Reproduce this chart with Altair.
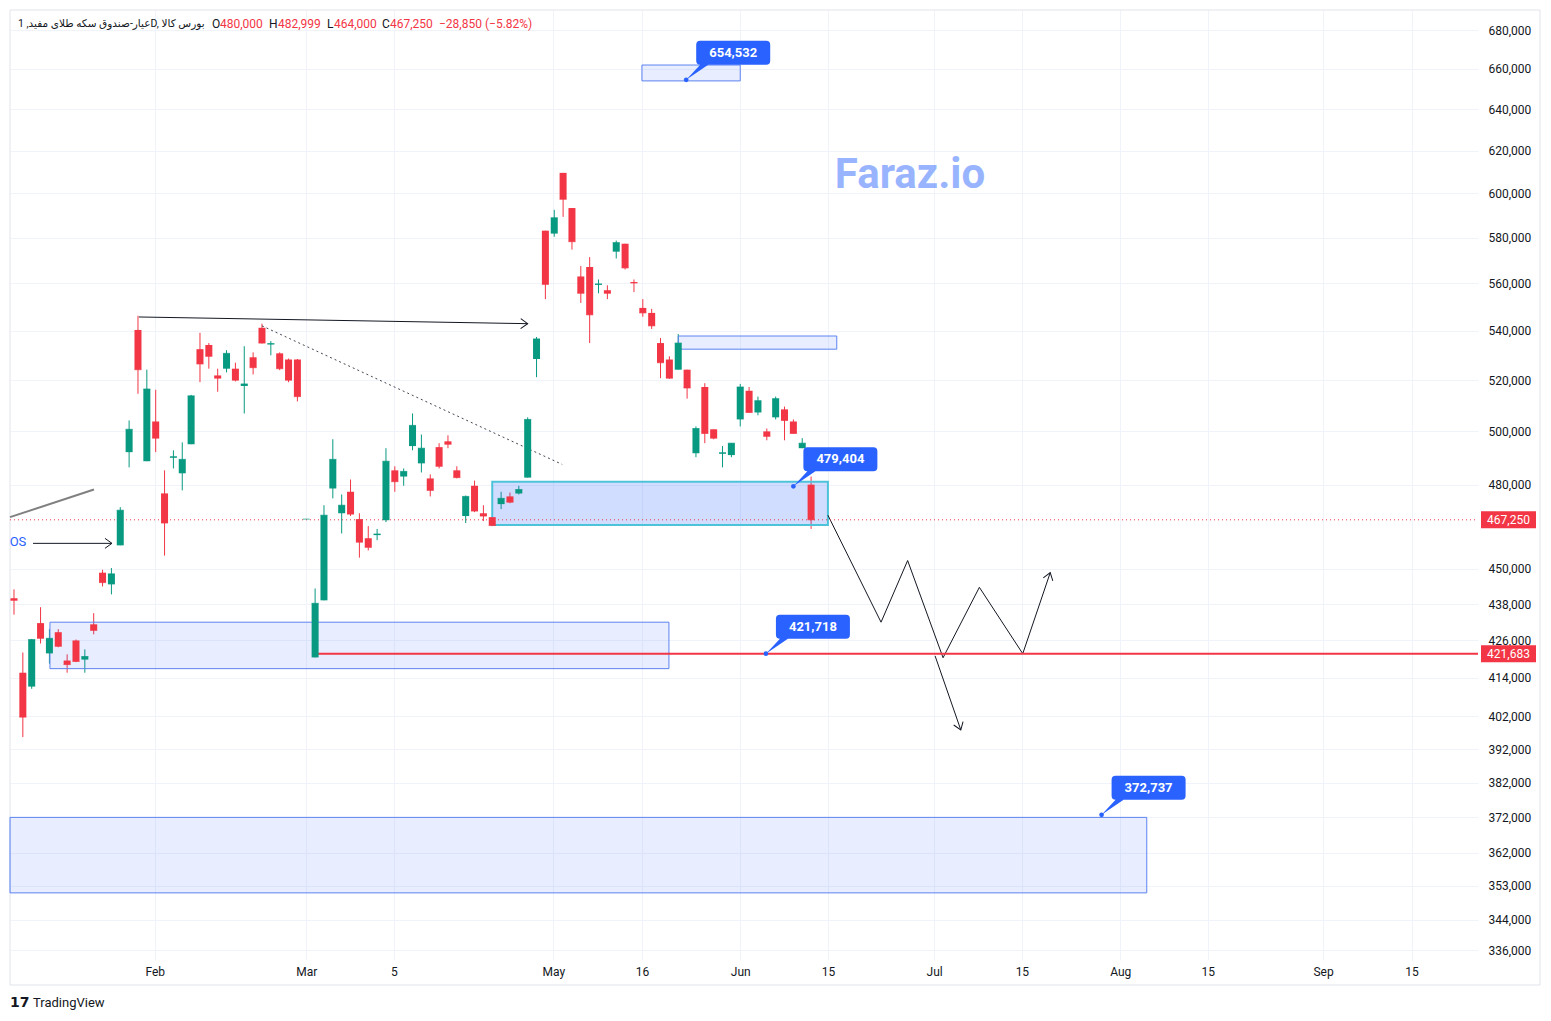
import altair as alt
import pandas as pd

GREEN = "#089981"
RED = "#F23645"
BLUE = "#2962FF"
INK = "#131722"
FONT = "Roboto, 'DejaVu Sans', sans-serif"
W, H = 1468, 950

# ---------------- candle data (thousands) ----------------
opens = [440.0, 415.6, 411.2, 431.7, 421.8, 428.7, 419.5, 426.0, 419.8, 431.3,
         448.7, 444.7, 458.2, 492.1, 540.4, 488.7, 503.8, 476.8, 490.0, 484.2,
         495.1, 532.5, 534.2, 521.9, 524.6, 524.6, 517.7, 529.2, 541.3, 534.4,
         530.8, 528.3, 528.3, 467.5, 420.5, 439.3, 478.6, 469.6, 477.4, 467.5,
         460.7, 461.8, 467.1, 485.3, 483.0, 494.4, 487.9, 482.3, 494.0, 496.2,
         485.3, 468.6, 479.6, 469.6, 468.2, 472.9, 475.7, 476.8, 482.6, 528.5,
         583.1, 581.8, 609.5, 593.3, 563.0, 567.1, 559.4, 557.1, 573.8, 577.3,
         560.6, 549.6, 547.5, 535.0, 528.3, 524.2, 524.2, 491.7, 517.3, 500.8,
         491.5, 491.0, 504.6, 515.8, 507.3, 500.0, 505.4, 508.5, 503.8, 493.6,
         480.0]
highs = [443.0, 422.1, 426.5, 437.0, 429.7, 429.7, 421.5, 426.3, 423.1, 435.0,
         449.7, 450.3, 471.8, 504.2, 546.3, 524.2, 516.2, 485.3, 492.8, 495.8,
         514.2, 539.2, 535.0, 524.6, 532.1, 527.0, 533.7, 531.2, 543.0, 535.8,
         531.2, 528.7, 528.5, 467.5, 443.3, 472.5, 497.0, 476.4, 481.9, 469.6,
         465.0, 464.0, 493.6, 486.8, 486.0, 506.9, 498.8, 483.8, 495.5, 498.5,
         486.8, 476.0, 481.5, 472.5, 468.2, 477.4, 477.1, 479.6, 505.4, 537.5,
         583.1, 592.5, 609.5, 593.3, 567.5, 571.4, 561.7, 559.2, 578.7, 577.3,
         561.7, 553.3, 549.2, 537.1, 529.6, 538.7, 524.2, 501.9, 518.8, 500.8,
         494.4, 495.5, 518.5, 517.3, 513.5, 501.1, 513.5, 509.6, 504.6, 497.4,
         482.999]
lows = [434.5, 395.6, 410.5, 425.0, 418.5, 423.8, 415.6, 419.0, 415.6, 428.0,
        444.0, 441.3, 458.2, 486.4, 514.6, 488.7, 492.1, 454.6, 486.0, 477.9,
        495.1, 519.2, 524.6, 515.4, 523.1, 519.5, 506.9, 522.3, 534.8, 530.0,
        524.0, 519.2, 511.6, 467.5, 420.5, 439.3, 475.0, 462.4, 468.6, 453.9,
        456.4, 460.0, 466.4, 477.4, 479.6, 492.8, 484.5, 475.7, 486.0, 493.6,
        482.3, 466.1, 470.0, 466.8, 465.0, 471.1, 473.2, 476.4, 482.6, 521.2,
        553.3, 580.4, 589.3, 574.7, 551.7, 535.0, 555.8, 553.3, 570.8, 566.0,
        556.3, 545.9, 540.8, 520.8, 520.5, 524.2, 512.7, 490.2, 495.5, 497.0,
        486.4, 490.2, 501.9, 507.3, 506.2, 496.6, 504.6, 496.6, 499.2, 493.6,
        464.0]
closes = [439.3, 401.7, 426.3, 426.7, 426.7, 424.1, 418.2, 419.2, 420.8, 429.3,
          445.3, 448.3, 470.7, 500.8, 524.2, 516.5, 497.4, 466.1, 490.4, 489.4,
          513.8, 526.5, 529.6, 520.8, 530.8, 520.0, 518.5, 525.0, 535.0, 534.8,
          524.6, 520.0, 513.5, 467.5, 438.3, 468.9, 489.4, 472.5, 469.3, 459.3,
          457.5, 462.2, 488.7, 481.1, 484.9, 502.3, 493.6, 477.9, 486.8, 495.1,
          482.6, 475.7, 470.4, 468.6, 465.2, 475.0, 473.6, 478.2, 504.6, 536.7,
          559.6, 588.9, 597.3, 578.2, 555.8, 546.7, 559.8, 555.8, 577.8, 566.7,
          560.2, 547.5, 542.1, 527.0, 520.8, 535.0, 516.9, 501.1, 499.2, 497.4,
          491.9, 495.5, 517.3, 507.3, 511.9, 498.1, 512.7, 504.2, 499.2, 495.5,
          467.25]

# ---------------- axes ----------------
x_tick_pos = [15.9, 33, 42.9, 60.9, 70.9, 82, 91.9, 103.9, 113.8, 124.9, 134.8, 147.8, 157.8]
x_tick_lab = ["Feb", "Mar", "5", "May", "16", "Jun", "15", "Jul", "15", "Aug", "15", "Sep", "15"]
y_ticks = [336000, 344000, 353000, 362000, 372000, 382000, 392000, 402000, 414000,
           426000, 438000, 450000, 480000, 500000, 520000, 540000, 560000, 580000,
           600000, 620000, 640000, 660000, 680000]
X_DOMAIN = [-0.45, 165.3]
Y_DOMAIN = [333500, 690500]

# ---------------- zones (boxes) ----------------
zone_x1 = [70.9, 75.0, 54.0, 4.06, -0.45]
zone_x2 = [82.0, 92.9, 91.9, 73.95, 127.9]
zone_top = [662000, 537900, 481100, 432000, 372000]
zone_bot = [654000, 532500, 465400, 416900, 351100]
zone_kind = ["plain", "plain", "active", "plain", "plain"]

# ---------------- drawn lines ----------------
seg_name = ["trend", "top_arrow", "os_arrow", "diag", "down_arrow"]
seg_x1 = [-0.45, 14.1, 2.15, 28.0, 104.0]
seg_y1 = [468200, 545800, 458900, 542100, 421000]
seg_x2 = [9.03, 58.0, 11.06, 61.9, 106.9]
seg_y2 = [478200, 543000, 458900, 487500, 397800]

zig_i = [91.9, 97.9, 100.9, 104.9, 109.0, 113.9, 117.0]
zig_p = [468900, 432000, 452900, 420400, 443700, 421700, 448700]

arrow_i = [58.0, 11.06, 117.0, 106.9]
arrow_p = [543000, 458900, 448700, 397800]
arrow_angle = [1, 0, 288, 70]

support_start = 34.0
support_price = 421683
last_price = 467250

callout_i = [75.9, 88.0, 84.9, 122.8]
callout_p = [654532, 479404, 421718, 372737]

# ---------------- frames ----------------
candles = pd.DataFrame({
    "i": list(range(len(opens))),
    "o": [v * 1000 for v in opens],
    "h": [v * 1000 for v in highs],
    "l": [v * 1000 for v in lows],
    "c": [v * 1000 for v in closes],
})
candles["d"] = ["up" if c >= o else "down" for o, c in zip(candles.o, candles.c)]

xs = alt.Scale(domain=X_DOMAIN, nice=False, zero=False, padding=0)
ys = alt.Scale(type="log", domain=Y_DOMAIN, nice=False, zero=False, padding=0)
col = alt.Color("d:N", scale=alt.Scale(domain=["up", "down"], range=[GREEN, RED]), legend=None)

label_expr = " : ".join(
    f"datum.value == {p} ? '{t}'" for p, t in zip(x_tick_pos, x_tick_lab)
) + " : ''"

x_axis = alt.Axis(values=x_tick_pos, labelExpr=label_expr, ticks=False, domain=False,
                  grid=True, gridColor="#f0f3fa", labelPadding=6, labelFontSize=12,
                  labelColor=INK, labelFont=FONT, title=None, labelFlush=False)
y_axis = alt.Axis(values=y_ticks, format=",d", orient="right", ticks=False, domain=False,
                  grid=True, gridColor="#f0f3fa", labelPadding=10, labelFontSize=12,
                  labelColor=INK, labelFont=FONT, title=None, labelFlush=False,
                  labelOverlap=False)

def X(f):
    return alt.X(f, scale=xs, axis=x_axis, title=None)

def Y(f):
    return alt.Y(f, scale=ys, axis=y_axis, title=None)

one = pd.DataFrame({"a": [0]})

# frame around whole chart
frame = alt.Chart(one).mark_rect(fillOpacity=0, stroke="#e0e3eb", strokeWidth=1).encode(
    x=alt.value(0), x2=alt.value(1530), y=alt.value(0), y2=alt.value(975))

# zones
zones = pd.DataFrame({"x1": zone_x1, "x2": zone_x2, "t": zone_top, "b": zone_bot, "k": zone_kind})
zone_plain = alt.Chart(zones[zones.k == "plain"]).mark_rect(
    fill=BLUE, fillOpacity=0.11, stroke="#5d83f0", strokeWidth=1).encode(
    x=X("x1:Q"), x2="x2:Q", y=Y("t:Q"), y2="b:Q")
zone_active = alt.Chart(zones[zones.k == "active"]).mark_rect(
    fill=BLUE, fillOpacity=0.22, stroke="#4cc3d9", strokeWidth=2).encode(
    x=X("x1:Q"), x2="x2:Q", y=Y("t:Q"), y2="b:Q")

# candles
wicks = alt.Chart(candles).mark_rule(strokeWidth=1).encode(
    x=X("i:Q"), y=Y("l:Q"), y2="h:Q", color=col)
bodies = alt.Chart(candles).mark_bar(size=7, orient="vertical").encode(
    x=X("i:Q"), y=Y("o:Q"), y2="c:Q", color=col)
closes_tick = alt.Chart(candles).mark_tick(size=7, thickness=1, orient="horizontal").encode(
    x=X("i:Q"), y=Y("c:Q"), color=col)

segs = pd.DataFrame({"n": seg_name, "x1": seg_x1, "y1": seg_y1, "x2": seg_x2, "y2": seg_y2})
trend = alt.Chart(segs[segs.n == "trend"]).mark_rule(color="#808080", strokeWidth=2).encode(
    x=X("x1:Q"), y=Y("y1:Q"), x2="x2:Q", y2="y2:Q")
black = alt.Chart(segs[segs.n.isin(["top_arrow", "os_arrow", "down_arrow"])]).mark_rule(
    color=INK, strokeWidth=1).encode(x=X("x1:Q"), y=Y("y1:Q"), x2="x2:Q", y2="y2:Q")
diag = alt.Chart(segs[segs.n == "diag"]).mark_rule(
    color="#434651", strokeWidth=1, strokeDash=[2, 3]).encode(
    x=X("x1:Q"), y=Y("y1:Q"), x2="x2:Q", y2="y2:Q")

zig = alt.Chart(pd.DataFrame({"i": zig_i, "p": zig_p, "k": list(range(len(zig_i)))})).mark_line(
    color=INK, strokeWidth=1).encode(x=X("i:Q"), y=Y("p:Q"), order="k:Q")

heads = alt.Chart(pd.DataFrame({"i": arrow_i, "p": arrow_p, "a": arrow_angle})).mark_point(
    shape="M-7,-5L0,0L-7,5", size=4, filled=False, color=INK, strokeWidth=1, opacity=1).encode(
    x=X("i:Q"), y=Y("p:Q"), angle=alt.Angle("a:Q", scale=None))

support = alt.Chart(pd.DataFrame({"x1": [support_start], "x2": [X_DOMAIN[1]], "p": [support_price]})).mark_rule(
    color=RED, strokeWidth=2).encode(x=X("x1:Q"), x2="x2:Q", y=Y("p:Q"))
lastline = alt.Chart(pd.DataFrame({"x1": [X_DOMAIN[0]], "x2": [X_DOMAIN[1]], "p": [last_price]})).mark_rule(
    color=RED, strokeWidth=1, strokeDash=[1, 3]).encode(x=X("x1:Q"), x2="x2:Q", y=Y("p:Q"))

os_text = alt.Chart(pd.DataFrame({"i": [0.45], "p": [459300], "t": ["OS"]})).mark_text(
    color=BLUE, fontSize=13, font=FONT, align="center", baseline="middle").encode(
    x=X("i:Q"), y=Y("p:Q"), text="t:N")

# callouts
cdf = pd.DataFrame({"i": callout_i, "p": callout_p,
                    "t": [f"{v:,}" for v in callout_p]})
callout_shape = ("M0,0L22,-15H80Q84,-15 84,-19V-35Q84,-39 80,-39H14Q10,-39 10,-35"
                 "V-19Q10,-15 14,-15Z")
c_box = alt.Chart(cdf).mark_point(shape=callout_shape, size=4, filled=True, color=BLUE,
                                  opacity=1, strokeWidth=0).encode(x=X("i:Q"), y=Y("p:Q"))
c_dot = alt.Chart(cdf).mark_point(shape="circle", size=22, filled=True, color=BLUE,
                                  opacity=1).encode(x=X("i:Q"), y=Y("p:Q"))
c_txt = alt.Chart(cdf).mark_text(color="white", fontSize=13, fontWeight="bold", font=FONT,
                                 dx=47, dy=-27, align="center", baseline="middle").encode(
    x=X("i:Q"), y=Y("p:Q"), text="t:N")

# price labels on the right scale
pl = pd.DataFrame({"p": [last_price, support_price],
                   "t": [f"{last_price:,}", f"{support_price:,}"]})
pl_box = alt.Chart(pl).mark_point(shape="M-27.5,-8.5H27.5V8.5H-27.5Z", size=4, filled=True,
                                  color=RED, opacity=1, strokeWidth=0).encode(
    x=alt.value(1498.5), y=Y("p:Q"))
pl_txt = alt.Chart(pl).mark_text(color="white", fontSize=12, font=FONT, align="center",
                                 baseline="middle").encode(x=alt.value(1498.5), y=Y("p:Q"), text="t:N")

# watermark
wm = alt.Chart(one).mark_text(text="Faraz.io", font="Roboto", fontSize=42, fontWeight="bold",
                              color=BLUE, opacity=0.47, align="center", baseline="middle").encode(
    x=alt.value(900), y=alt.value(165))

# header
head_txt = ["عیار-صندوق سکه طلای مفید, 1D, بورس کالا", "O", "480,000", "H", "482,999",
            "L", "464,000", "C", "467,250", "−28,850 (−5.82%)"]
head_col = [INK, INK, RED, INK, RED, INK, RED, INK, RED, RED]
head_x = [8, 202, 210, 259, 268, 317, 324, 372, 380, 429]
head_size = [10.5, 12, 12, 12, 12, 12, 12, 12, 12, 12]
hdr_layers = [
    alt.Chart(one).mark_text(text=t, color=c, fontSize=s, font=FONT, align="left",
                             baseline="middle").encode(x=alt.value(xp), y=alt.value(14))
    for t, c, xp, s in zip(head_txt, head_col, head_x, head_size)
]

logo_mark = alt.Chart(one).mark_text(text="17", fontSize=14, fontWeight=900, font="DejaVu Sans",
                                     align="left", baseline="middle", color=INK).encode(
    x=alt.value(0), y=alt.value(993))
logo_txt = alt.Chart(one).mark_text(text="TradingView", fontSize=13, font=FONT,
                                    align="left", baseline="middle", color=INK).encode(
    x=alt.value(23), y=alt.value(993))

chart = alt.layer(
    wicks, frame, zone_plain, zone_active, trend, diag, black, zig, heads,
    lastline, support, bodies, closes_tick, os_text, c_box, c_dot, c_txt,
    pl_box, pl_txt, wm, *hdr_layers, logo_mark, logo_txt
).resolve_scale(color="independent").properties(
    width=W, height=H, background="white",
    autosize=alt.AutoSizeParams(type="none"),
    padding={"left": 10, "top": 10, "right": 73, "bottom": 61},
).configure_view(stroke=None)

chart.save("out.html", embed_options={"renderer": "svg", "actions": False})
